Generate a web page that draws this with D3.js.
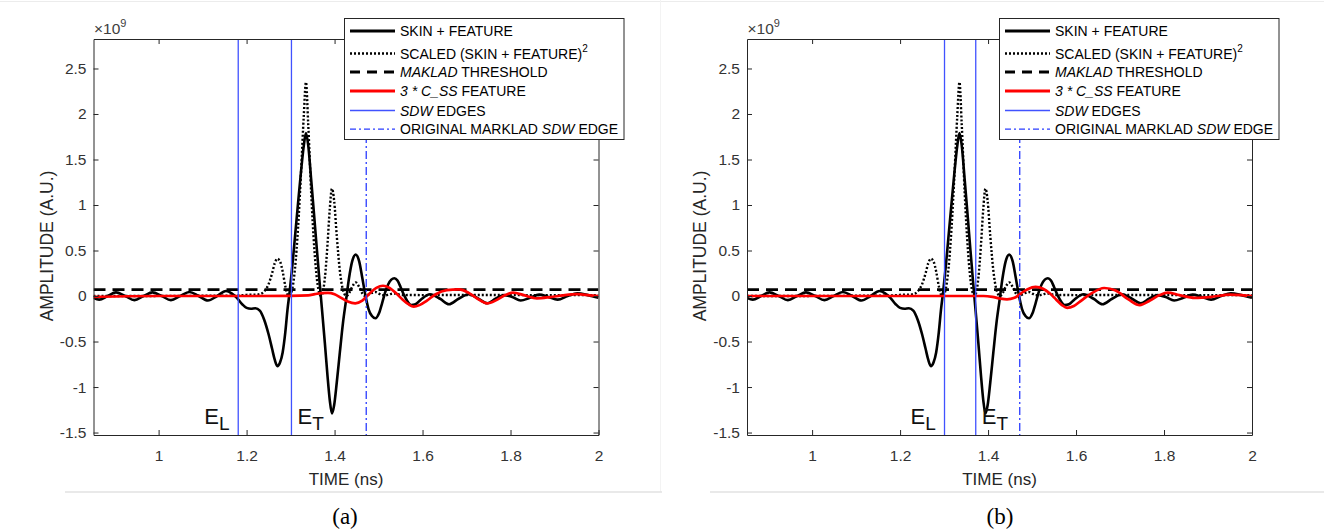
<!DOCTYPE html>
<html><head><meta charset="utf-8">
<script src="https://cdn.jsdelivr.net/npm/d3@7"></script>
<style>body{margin:0;background:#fff}svg{display:block}</style>
</head><body>
<svg id="c" width="1324" height="531"></svg>
<script>
// ---------------- DATA ----------------
const xTicks = [1, 1.2, 1.4, 1.6, 1.8, 2];
const yTicks = [-1.5, -1, -0.5, 0, 0.5, 1, 1.5, 2, 2.5];
const xDomain = [0.852, 2];
const yDomain = [-1.527, 2.824];

// SKIN + FEATURE (x1e9)
const skinTime = [0.852,0.865,0.884,0.903,0.924,0.945,0.966,0.986,1.007,1.028,1.049,1.070,1.091,1.112,1.133,1.153,1.166,1.178,1.19,1.20,1.21,1.22,1.23,1.24,1.25,1.258,1.264,1.270,1.276,1.282,1.288,1.293,1.298,1.304,1.31,1.317,1.324,1.330,1.335,1.340,1.347,1.354,1.360,1.366,1.372,1.378,1.384,1.389,1.394,1.399,1.405,1.412,1.419,1.426,1.433,1.440,1.448,1.456,1.463,1.470,1.477,1.485,1.493,1.501,1.508,1.515,1.522,1.529,1.536,1.543,1.550,1.558,1.566,1.574,1.584,1.596,1.617,1.64,1.66,1.682,1.705,1.727,1.747,1.766,1.785,1.804,1.823,1.844,1.865,1.886,1.907,1.93,1.952,1.976,2.0];
const skinAmp = [-0.02,-0.04,0.0,0.04,0.0,-0.045,0.0,0.04,0.0,-0.045,0.0,0.045,0.0,-0.05,0.0,0.055,0.03,-0.02,-0.09,-0.13,-0.14,-0.135,-0.16,-0.26,-0.42,-0.58,-0.70,-0.77,-0.73,-0.62,-0.40,-0.15,0.05,0.33,0.65,1.02,1.38,1.65,1.79,1.66,1.27,0.86,0.5,0.15,-0.18,-0.52,-0.88,-1.14,-1.29,-1.2,-0.95,-0.62,-0.3,-0.05,0.2,0.38,0.455,0.38,0.2,0.01,-0.14,-0.22,-0.245,-0.19,-0.08,0.04,0.13,0.18,0.195,0.17,0.1,0.01,-0.06,-0.1,-0.09,-0.04,0.02,-0.03,-0.09,-0.03,0.02,-0.03,-0.08,-0.03,0.01,-0.01,-0.05,-0.02,0.015,-0.01,-0.04,0.0,0.03,0.01,-0.02];

// SCALED (SKIN + FEATURE)^2 (x1e9)
const scaledTime = [0.852,1.17,1.19,1.20,1.21,1.22,1.23,1.24,1.25,1.258,1.264,1.270,1.276,1.282,1.288,1.293,1.297,1.304,1.31,1.317,1.324,1.330,1.335,1.340,1.347,1.354,1.360,1.366,1.369,1.372,1.378,1.384,1.389,1.394,1.399,1.405,1.412,1.419,1.427,1.433,1.440,1.448,1.456,1.463,1.470,1.477,1.485,1.493,1.501,1.508,1.515,1.522,1.529,1.536,1.543,1.550,1.558,1.574,1.60,1.66,1.75,1.82,1.9,2.0];
const scaledAmp = [0.0,0.004,0.008,0.013,0.015,0.014,0.02,0.05,0.13,0.25,0.36,0.41,0.38,0.27,0.11,0.015,0.0,0.08,0.3,0.75,1.38,1.98,2.35,1.9,1.12,0.52,0.18,0.02,0.0,0.02,0.2,0.57,0.95,1.18,1.05,0.66,0.28,0.07,0.0,0.03,0.1,0.15,0.1,0.03,0.0,0.015,0.035,0.044,0.026,0.01,0.008,0.014,0.024,0.028,0.021,0.012,0.01,0.012,0.01,0.012,0.011,0.01,0.01,0.01];

// MAKLAD threshold (x1e9)
const threshold = 0.07;

// 3 * C_SS FEATURE, panel (a) and panel (b)
const featureTimeA = [0.852,0.9,1.0,1.1,1.2,1.3,1.34,1.355,1.37,1.385,1.40,1.415,1.43,1.447,1.463,1.478,1.495,1.51,1.525,1.54,1.555,1.568,1.58,1.593,1.61,1.63,1.655,1.683,1.705,1.725,1.747,1.768,1.788,1.806,1.83,1.86,1.89,1.92,1.952,1.98,2.0];
const featureAmpA = [-0.01,-0.005,0.0,0.0,0.0,0.002,0.008,0.02,0.032,0.035,0.02,-0.02,-0.06,-0.08,-0.05,0.02,0.09,0.113,0.09,0.03,-0.04,-0.09,-0.117,-0.1,-0.05,0.02,0.065,0.074,0.035,-0.03,-0.08,-0.045,0.01,0.037,0.01,-0.025,-0.012,0.008,0.02,0.008,0.0];
const featureTimeB = [0.852,1.0,1.2,1.35,1.39,1.41,1.425,1.443,1.46,1.475,1.49,1.508,1.525,1.54,1.555,1.568,1.58,1.595,1.612,1.635,1.664,1.69,1.72,1.745,1.768,1.79,1.808,1.835,1.87,1.91,1.95,1.98,2.0];
const featureAmpB = [0.0,0.0,0.0,0.0,0.0,-0.01,-0.025,-0.037,-0.02,0.03,0.075,0.1,0.08,0.03,-0.04,-0.1,-0.13,-0.11,-0.05,0.03,0.088,0.06,-0.04,-0.1,-0.05,0.01,0.037,0.01,-0.02,-0.008,0.015,0.008,0.0];

// SDW edges (E_L, E_T) and original Maklad edge
const edgesA = [1.181, 1.302];
const edgesB = [1.301, 1.372];
const originalEdge = 1.472;
const edgeLabels = ["L", "T"];
const captions = ["(a)", "(b)"];

// ---------------- DRAW ----------------
const W = 1324, H = 531;
const svg = d3.select("#c");
const SANS = "'Liberation Sans', Arial, sans-serif";
svg.append("rect").attr("width", W).attr("height", H).attr("fill", "#fff");

// faint figure frame lines
svg.append("line").attr("x1",0).attr("x2",W).attr("y1",1.5).attr("y2",1.5).attr("stroke","#ececec");
svg.append("line").attr("x1",660.5).attr("x2",660.5).attr("y1",0).attr("y2",492).attr("stroke","#f3f3f3");
svg.append("line").attr("x1",65).attr("x2",662).attr("y1",492).attr("y2",492).attr("stroke","#e2e2e2").attr("stroke-width",1.5);
svg.append("line").attr("x1",710).attr("x2",1324).attr("y1",492).attr("y2",492).attr("stroke","#e2e2e2").attr("stroke-width",1.5);

const plotTop = 39, plotBottom = 435, plotW = 505;
const panels = [
  {left: 93.5, edges: edgesA, ft: featureTimeA, fa: featureAmpA, cap: captions[0], capX: 345, legX: 344.5},
  {left: 747, edges: edgesB, ft: featureTimeB, fa: featureAmpB, cap: captions[1], capX: 1000, legX: 999.5}
];
const fmt = d => String(d);

panels.forEach((p, i) => {
  const x = d3.scaleLinear().domain(xDomain).range([p.left, p.left + plotW]);
  const y = d3.scaleLinear().domain(yDomain).range([plotBottom, plotTop]);
  const g = svg.append("g");
  const cid = "clip" + i;
  g.append("clipPath").attr("id", cid).append("rect")
    .attr("x", p.left).attr("y", plotTop).attr("width", plotW).attr("height", plotBottom - plotTop);
  const line = d3.line().x(d => x(d[0])).y(d => y(d[1])).curve(d3.curveMonotoneX);
  const pg = g.append("g").attr("clip-path", `url(#${cid})`);

  pg.append("path").datum(d3.zip(skinTime, skinAmp)).attr("d", line)
    .attr("fill","none").attr("stroke","#000").attr("stroke-width",2.6);
  pg.append("path").datum(d3.zip(scaledTime, scaledAmp)).attr("d", line)
    .attr("fill","none").attr("stroke","#000").attr("stroke-width",2.4).attr("stroke-dasharray","2,2");
  pg.append("line").attr("x1", x(xDomain[0])).attr("x2", x(xDomain[1]))
    .attr("y1", y(threshold)).attr("y2", y(threshold))
    .attr("stroke","#000").attr("stroke-width",2.6).attr("stroke-dasharray","12,7");
  pg.append("path").datum(d3.zip(p.ft, p.fa)).attr("d", line)
    .attr("fill","none").attr("stroke","#ff0000").attr("stroke-width",2.7);
  p.edges.forEach(e => {
    pg.append("line").attr("x1", x(e)).attr("x2", x(e)).attr("y1", plotTop).attr("y2", plotBottom)
      .attr("stroke","#4052ff").attr("stroke-width",1.3);
  });
  pg.append("line").attr("x1", x(originalEdge)).attr("x2", x(originalEdge)).attr("y1", plotTop).attr("y2", plotBottom)
    .attr("stroke","#2a3cff").attr("stroke-width",1.3).attr("stroke-dasharray","8,3,2,3");

  // axes
  const axCol = "#262626";
  const styleAxis = sel => {
    sel.selectAll("path,line").attr("stroke", axCol);
    sel.selectAll("text").attr("fill", "#333").style("font-family", SANS).style("font-size","15.5px");
  };
  g.append("g").attr("transform",`translate(0,${plotBottom})`)
    .call(d3.axisBottom(x).tickValues(xTicks).tickFormat(fmt).tickSizeInner(-5).tickSizeOuter(0).tickPadding(15)).call(styleAxis);
  g.append("g").attr("transform",`translate(0,${plotTop})`)
    .call(d3.axisTop(x).tickValues(xTicks).tickFormat("").tickSizeInner(-5).tickSizeOuter(0)).call(styleAxis);
  g.append("g").attr("transform",`translate(${p.left},0)`)
    .call(d3.axisLeft(y).tickValues(yTicks).tickFormat(fmt).tickSizeInner(-5).tickSizeOuter(0).tickPadding(7)).call(styleAxis);
  g.append("g").attr("transform",`translate(${p.left + plotW},0)`)
    .call(d3.axisRight(y).tickValues(yTicks).tickFormat("").tickSizeInner(-5).tickSizeOuter(0)).call(styleAxis);
  g.selectAll(".domain").attr("stroke", axCol);

  // exponent label
  const ex = g.append("text").attr("x", p.left + 0.5).attr("y", 34)
    .style("font-family", SANS).style("font-size","15.5px").attr("fill","#404040");
  ex.append("tspan").text("×10");
  ex.append("tspan").attr("dy",-7).style("font-size","11px").text("9");

  // axis titles
  g.append("text").attr("x", p.left + plotW/2).attr("y", 485).attr("text-anchor","middle")
    .style("font-family", SANS).style("font-size","17px").attr("fill","#262626").text("TIME (ns)");
  g.append("text").attr("transform",`translate(${p.left - 41},246) rotate(-90)`).attr("text-anchor","middle")
    .style("font-family", SANS).style("font-size","17.5px").attr("fill","#262626").text("AMPLITUDE (A.U.)");

  // E labels
  p.edges.forEach((e, k) => {
    const tx = k === 0 ? x(e) - 34 : x(e) + 6;
    const t = g.append("text").attr("x", tx).attr("y", 424)
      .style("font-family", SANS).style("font-size","22px").attr("fill","#111");
    t.append("tspan").text("E");
    t.append("tspan").attr("dy", 6).style("font-size","19px").text(edgeLabels[k]);
  });

  // legend
  const lg = g.append("g");
  const lx = p.legX;
  lg.append("rect").attr("x", lx).attr("y", 18.5).attr("width", 279.5).attr("height", 121)
    .attr("fill","#fff").attr("stroke","#262626").attr("stroke-width",1);
  const rows = [31, 53.5, 72, 91, 110.5, 129.2];
  const samples = [
    {stroke:"#000", w:3, dash:null},
    {stroke:"#000", w:2.3, dash:"2,2"},
    {stroke:"#000", w:3, dash:"10,7"},
    {stroke:"#ff0000", w:3, dash:null},
    {stroke:"#4052ff", w:1.3, dash:null},
    {stroke:"#2a3cff", w:1.3, dash:"6,3,2,3"}
  ];
  const labels = [
    [["SKIN + FEATURE", false]],
    [["SCALED (SKIN + FEATURE)", false], ["2", "sup"]],
    [["MAKLAD", true], [" THRESHOLD", false]],
    [["3 * C_SS", true], [" FEATURE", false]],
    [["SDW", true], [" EDGES", false]],
    [["ORIGINAL MARKLAD ", false], ["SDW", true], [" EDGE", false]]
  ];
  rows.forEach((ry, r) => {
    const s = samples[r];
    const ln = lg.append("line").attr("x1", lx + 5.5).attr("x2", lx + 50.5).attr("y1", ry).attr("y2", ry)
      .attr("stroke", s.stroke).attr("stroke-width", s.w);
    if (s.dash) ln.attr("stroke-dasharray", s.dash);
    const t = lg.append("text").attr("x", lx + 55.5).attr("y", ry + 5)
      .style("font-family", SANS).style("font-size","14px").attr("fill","#000");
    labels[r].forEach(([txt, kind]) => {
      const ts = t.append("tspan").text(txt);
      if (kind === true) ts.style("font-style","italic");
      if (kind === "sup") ts.attr("dy", -7).style("font-size","10px");
    });
  });

  // caption
  svg.append("text").attr("x", p.capX).attr("y", 524).attr("text-anchor","middle")
    .style("font-family","'Liberation Serif', 'Times New Roman', serif").style("font-size","23px")
    .attr("fill","#000").text(p.cap);
});
</script>
</body></html>
